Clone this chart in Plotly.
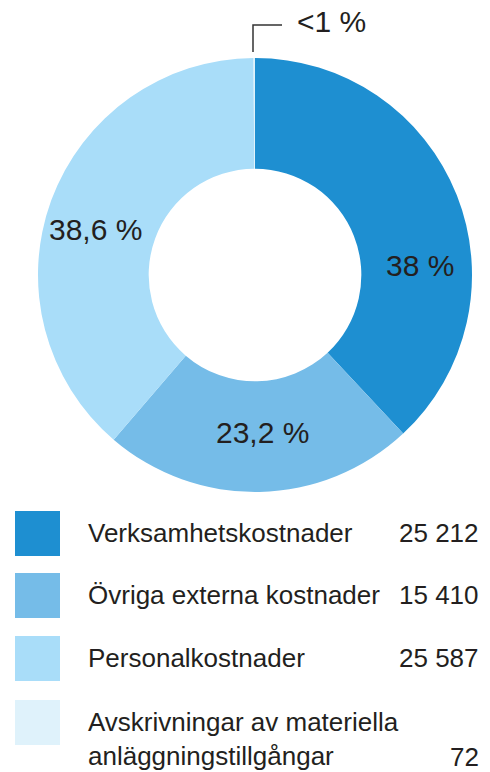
import plotly.graph_objects as go

# data
categories = ["Verksamhetskostnader", "Övriga externa kostnader", "Personalkostnader",
              "Avskrivningar av materiella<br>anläggningstillgångar"]
values = [25212, 15410, 25587, 72]
value_labels = ["25 212", "15 410", "25 587", "72"]
colors = ["#1e8fd1", "#75bce8", "#a9ddf9", "#dff2fb"]

W, H = 490, 772
FONT = "Liberation Sans, Arial, sans-serif"
TXT = "#231f20"


def px(x):
    return x / W


def py(y):
    return 1 - y / H


def pct_text(v, total):
    p = v / total * 100
    if p < 1:
        return "<1 %"
    s = f"{p:.1f}"
    if s.endswith(".0"):
        s = s[:-2]
    return s.replace(".", ",") + " %"


total = sum(values)
pct = [pct_text(v, total) for v in values]

fig = go.Figure()
fig.add_trace(go.Pie(labels=categories,
                     values=values,
                     sort=False,
                     direction="clockwise",
                     rotation=0,
                     hole=0.49,
                     marker=dict(colors=colors, line=dict(width=0)),
                     textinfo="none",
                     hoverinfo="label+value+percent",
                     showlegend=False,
                     domain=dict(x=[px(38), px(472)], y=[py(492), py(58)])))

annotations = []
shapes = []

# percentage labels (placed like the reference)
label_pos = [(420, 265), (262, 432), (95, 230)]
for (x, y), t in zip(label_pos, pct[:3]):
    annotations.append(dict(x=px(x), y=py(y), xref="paper", yref="paper", text=t,
                            showarrow=False, xanchor="center", yanchor="middle",
                            font=dict(family=FONT, size=30, color=TXT)))

# small slice leader
shapes.append(dict(type="path", xref="paper", yref="paper",
                   path=f"M {px(253)} {py(52)} L {px(253)} {py(25)} L {px(282)} {py(25)}",
                   line=dict(color="#333333", width=1.5)))
annotations.append(dict(x=px(295), y=py(22), xref="paper", yref="paper", text=pct[3],
                        showarrow=False, xanchor="left", yanchor="middle",
                        font=dict(family=FONT, size=30, color=TXT)))

# custom legend
row_top = [511, 573, 636, 700]
for i, (cat, vl, c, top) in enumerate(zip(categories, value_labels, colors, row_top)):
    shapes.append(dict(type="rect", xref="paper", yref="paper",
                       x0=px(15), x1=px(60), y0=py(top + 45), y1=py(top),
                       fillcolor=c, line=dict(width=0)))
    if i < 3:
        ty = top + 22
        annotations.append(dict(x=px(86), y=py(ty), xref="paper", yref="paper", text=cat,
                                showarrow=False, xanchor="left", yanchor="middle",
                                font=dict(family=FONT, size=26, color=TXT)))
        annotations.append(dict(x=px(481), y=py(ty), xref="paper", yref="paper", text=vl,
                                showarrow=False, xanchor="right", yanchor="middle",
                                font=dict(family=FONT, size=26, color=TXT)))
    else:
        annotations.append(dict(x=px(86), y=py(top + 39), xref="paper", yref="paper", text=cat,
                                showarrow=False, xanchor="left", yanchor="middle", align="left",
                                font=dict(family=FONT, size=26, color=TXT)))
        annotations.append(dict(x=px(481), y=py(top + 57), xref="paper", yref="paper", text=vl,
                                showarrow=False, xanchor="right", yanchor="middle",
                                font=dict(family=FONT, size=26, color=TXT)))

fig.update_layout(width=W, height=H,
                  margin=dict(l=0, r=0, t=0, b=0),
                  paper_bgcolor="white",
                  plot_bgcolor="white",
                  annotations=annotations,
                  shapes=shapes)

fig.write_html("out.html",
               config={"displayModeBar": False},
               post_script="document.body.style.margin='0';document.body.style.overflow='hidden';")
